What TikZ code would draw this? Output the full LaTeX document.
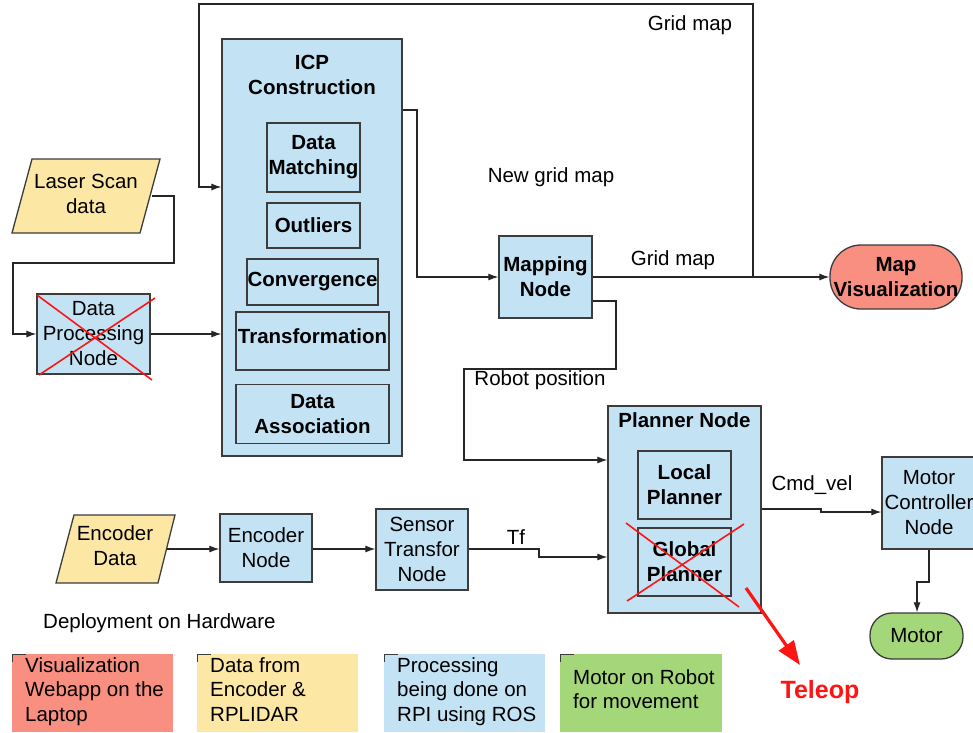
\documentclass[tikz,border=0pt]{standalone}
\usepackage{fontspec}
\setmainfont{Liberation Sans}
\usetikzlibrary{arrows.meta}
\definecolor{nodeblue}{RGB}{195,227,245}
\definecolor{datayel}{RGB}{253,231,164}
\definecolor{vizred}{RGB}{249,143,128}
\definecolor{motgreen}{RGB}{164,214,122}
\definecolor{edgegray}{RGB}{60,60,60}
\definecolor{crossred}{RGB}{255,20,20}
\tikzset{
  blk/.style={draw=edgegray, line width=1.3pt, fill=nodeblue, inner sep=0pt, align=center,
    font=\fontsize{20.5}{25}\selectfont},
  bblk/.style={blk, font=\fontsize{20.5}{25}\selectfont\bfseries},
  lbl/.style={inner sep=0pt, font=\fontsize{20.5}{25}\selectfont, align=center},
  legtxt/.style={inner sep=0pt, font=\fontsize{20.5}{24.5}\selectfont, align=left, anchor=north west},
  conn/.style={draw=black!85, line width=1.1pt},
  arr/.style={conn, -{Latex[length=10pt,width=7pt]}},
  xline/.style={draw=crossred, line width=1.6pt},
  para/.style={draw=edgegray, line width=1.3pt, fill=datayel}
}
\begin{document}
\begin{tikzpicture}[x=1pt,y=-1pt]
\useasboundingbox (0,0) rectangle (973,732);
\fill[white] (0,0) rectangle (973,732);

% ---------- parallelograms ----------
\filldraw[para] (32,159) -- (160,159) -- (140,233) -- (12,233) -- cycle;
\node[lbl] (laser) at (86,194) {Laser Scan\\data};
\coordinate (laserR) at (152,196);

\filldraw[para] (74,515) -- (175,515) -- (158,583) -- (56,583) -- cycle;
\node[lbl] (encdata) at (115,546) {Encoder\\Data};
\coordinate (encR) at (167,549);

% ---------- data processing node ----------
\node[blk, minimum width=113pt, minimum height=80pt] (dpn) at (93.5,334) {Data\\Processing\\Node};
\draw[xline] (37,295) -- (152,380);
\draw[xline] (39,375) -- (155,298);

% ---------- ICP block ----------
\node[blk, minimum width=180pt, minimum height=417pt] (icp) at (312,247.5) {};
\node[lbl, font=\fontsize{20.5}{25}\selectfont\bfseries] (icpt) at (312,75) {ICP\\Construction};
\node[bblk, minimum width=93pt, minimum height=69pt] (dm) at (313.5,157.5) {Data\\Matching};
\node[bblk, minimum width=93pt, minimum height=45pt] (out) at (313.5,225.5) {Outliers};
\node[bblk, minimum width=131pt, minimum height=46pt] (conv) at (312.5,282) {Convergence};
\node[bblk, minimum width=153pt, minimum height=58pt, text depth=10pt] (tr) at (312.5,341) {Transformation};
\node[bblk, minimum width=153pt, minimum height=59pt] (da) at (312.5,414) {Data\\Association};

% ---------- mapping & visualization ----------
\node[bblk, minimum width=93pt, minimum height=82pt] (map) at (545.5,277) {Mapping\\Node};
\node[bblk, fill=vizred, minimum width=132pt, minimum height=64pt, rounded corners=31pt] (mapv) at (896,277) {Map\\Visualization};

% ---------- planner ----------
\node[blk, minimum width=153pt, minimum height=207pt] (plan) at (684.5,509.5) {};
\node[lbl, font=\fontsize{20.5}{25}\selectfont\bfseries] (plant) at (684.5,420) {Planner Node};
\node[bblk, minimum width=93pt, minimum height=68pt] (lp) at (684.5,485) {Local\\Planner};
\node[bblk, minimum width=93pt, minimum height=68pt] (gp) at (684.5,562) {Global\\Planner};
\draw[xline] (626,523) -- (739,607);
\draw[xline] (627,601) -- (744,524);

% ---------- motor ----------
\node[blk, minimum width=94pt, minimum height=92pt] (mc) at (929,503) {Motor\\Controller\\Node};
\node[blk, fill=motgreen, minimum width=93pt, minimum height=46pt, rounded corners=22pt] (motor) at (916.5,636) {Motor};

% ---------- lower chain ----------
\node[blk, minimum width=92pt, minimum height=68pt] (encn) at (266,548) {Encoder\\Node};
\node[blk, minimum width=92pt, minimum height=81pt] (sens) at (422,549.5) {Sensor\\Transfor\\Node};

% ---------- connectors ----------
\draw[arr] (laserR) -- (174,196) -- (174,263) -- (13,263) -- (13,334) -- (dpn.west);
\draw[arr] (dpn.east) -- (dpn.east -| icp.west);
\draw[arr] (icp.east |- 0,110) -- (417,110) -- (417,277) -- (map.west);
\draw[arr] (map.east) -- (mapv.west);
\coordinate (j1) at (753,277);
\draw[arr] (j1) -- (753,4) -- (199,4) -- (199,187) -- (icp.west |- 0,187);
\draw[arr] (map.east |- 0,301) -- (616,301) -- (616,369) -- (464,369) -- (464,460) -- (plan.west |- 0,460);
\draw[arr] (encR) -- (encn.west |- encR);
\draw[arr] (encn.east |- encR) -- (sens.west |- encR);
\draw[arr] (sens.east |- 0,549) -- (539,549) -- (539,557) -- (plan.west |- 0,557);
\draw[arr] (plan.east |- 0,509) -- (821,509) -- (821,512) -- (mc.west |- 0,512);
\draw[arr] (mc.south) -- (929,582) -- (917,582) -- (motor.north -| 917,0);

% ---------- teleop ----------
\coordinate (tstart) at (746,588);
\coordinate (ttip) at (800,665);
\draw[draw=crossred, fill=crossred, line width=3.2pt, -{Triangle[length=24pt,width=18pt]}] (tstart) -- (ttip);
\node[lbl, text=crossred, font=\fontsize{25}{28}\selectfont\bfseries] (teleop) at (820,692) {Teleop};

% ---------- edge labels ----------
\node[lbl] (l1) at (690,25) {Grid map};
\node[lbl] (l2) at (551,177) {New grid map};
\node[lbl] (l3) at (673,260) {Grid map};
\node[lbl] (l4) at (540,380) {Robot position};
\node[lbl] (l5) at (812,485) {Cmd\_vel};
\node[lbl] (l6) at (516,537) {Tf};
\node[lbl, anchor=west] (dep) at (43,623) {Deployment on Hardware};

% ---------- legend ----------
\fill[vizred] (12,654) rectangle (173,732);
\fill[datayel] (197,654) rectangle (358,732);
\fill[nodeblue] (384,654) rectangle (545,732);
\fill[motgreen] (560,654) rectangle (722,732);
\foreach \x in {12,197,384,560}{
  \draw[edgegray, line width=1pt] (\x,662) -- (\x,654) -- (\x+14,654);
}
\node[legtxt] (lg1) at (25,657) {Visualization\\Webapp on the\\Laptop};
\node[legtxt] (lg2) at (210,657) {Data from\\Encoder \&\\RPLIDAR};
\node[legtxt] (lg3) at (397,657) {Processing\\being done on\\RPI using ROS};
\node[legtxt] (lg4) at (573,669) {Motor on Robot\\for movement};
\end{tikzpicture}
\end{document}
